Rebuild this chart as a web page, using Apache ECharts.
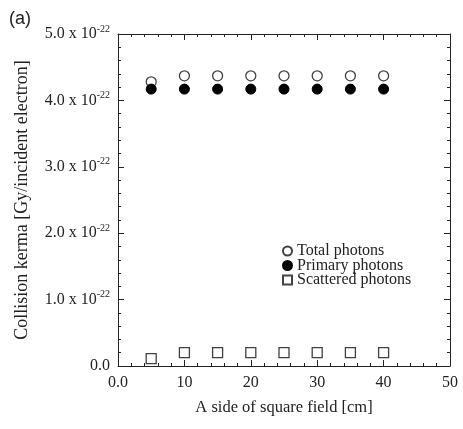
<!DOCTYPE html>
<html><head><meta charset="utf-8">
<script src="https://cdn.jsdelivr.net/npm/echarts@6/dist/echarts.min.js"></script>
<style>html,body{margin:0;padding:0;background:#fff}#c{width:463px;height:429px}</style>
</head><body><div id="c"></div>
<script>
const fieldSides = [5, 10, 15, 20, 25, 30, 35, 40];
const totalPhotons = [4.28, 4.37, 4.37, 4.37, 4.37, 4.37, 4.37, 4.37];
const primaryPhotons = [4.17, 4.17, 4.17, 4.17, 4.17, 4.17, 4.17, 4.17];
const scatteredPhotons = [0.11, 0.20, 0.20, 0.20, 0.20, 0.20, 0.20, 0.20];
const yTickLabels = ['0.0', '1.0', '2.0', '3.0', '4.0', '5.0'];
const xTickLabels = ['0.0', '10', '20', '30', '40', '50'];

const F = 'Liberation Serif';
const pair = (xs, ys) => xs.map((x, i) => [x, ys[i]]);
const chart = echarts.init(document.getElementById('c'));
const tickCommon = () => ({
  axisLine: {show: true, onZero: false, lineStyle: {color: '#222', width: 1}},
  axisTick: {show: true, inside: true, length: 6, lineStyle: {color: '#222'}},
  minorTick: {show: true, splitNumber: 5, length: 3, lineStyle: {color: '#222'}},
  splitLine: {show: false}
});
chart.setOption({
  animation: false,
  backgroundColor: '#fff',
  textStyle: {fontFamily: F},
  title: {text: '(a)', left: 4, top: 5, textStyle: {fontFamily: 'Liberation Sans', fontSize: 18, fontWeight: 'normal', color: '#222'}},
  grid: {left: 118, right: 13, top: 34, bottom: 63},
  legend: {
    orient: 'vertical', left: 277, top: 238, itemWidth: 9, itemHeight: 9, itemGap: -1.5,
    textStyle: {fontFamily: F, fontSize: 16, color: '#222', lineHeight: 14.5},
    data: [
      {name: 'Total photons', icon: 'circle'},
      {name: 'Primary photons', icon: 'circle'},
      {name: 'Scattered photons', icon: 'rect'}
    ]
  },
  xAxis: [
    Object.assign({type: 'value', min: 0, max: 50, interval: 10, position: 'bottom',
      name: 'A side of square field [cm]', nameLocation: 'middle', nameGap: 33,
      nameTextStyle: {fontFamily: F, fontSize: 16.5, color: '#222'},
      axisLabel: {fontFamily: F, fontSize: 16, color: '#222', margin: 9,
        formatter: v => xTickLabels[Math.round(v / 10)]}}, tickCommon()),
    Object.assign({type: 'value', min: 0, max: 50, interval: 10, position: 'top',
      axisLabel: {show: false}}, tickCommon())
  ],
  yAxis: [
    Object.assign({type: 'value', min: 0, max: 5, interval: 1, position: 'left',
      name: 'Collision kerma [Gy/incident electron]', nameLocation: 'middle', nameGap: 87,
      nameTextStyle: {fontFamily: F, fontSize: 18, color: '#222'},
      axisLabel: {color: '#222', margin: 8,
        formatter: v => { const s = yTickLabels[Math.round(v)]; return v === 0 ? '{a|' + s + '}' : '{a|' + s + ' x 10}{s|-22}'; },
        rich: {a: {fontFamily: F, fontSize: 16, color: '#222'}, s: {fontFamily: F, fontSize: 10, color: '#222', verticalAlign: 'top', padding: [0, 0, 10, 0]}}}
    }, tickCommon()),
    Object.assign({type: 'value', min: 0, max: 5, interval: 1, position: 'right',
      axisLabel: {show: false}}, tickCommon())
  ],
  series: [
    {name: 'Total photons', type: 'scatter', symbol: 'circle', symbolSize: 10,
      itemStyle: {color: '#fff', borderColor: '#111', borderWidth: 1.3}, data: pair(fieldSides, totalPhotons)},
    {name: 'Primary photons', type: 'scatter', symbol: 'circle', symbolSize: 10,
      itemStyle: {color: '#000', borderColor: '#000', borderWidth: 1, opacity: 1}, data: pair(fieldSides, primaryPhotons)},
    {name: 'Scattered photons', type: 'scatter', symbol: 'rect', symbolSize: 10,
      itemStyle: {color: '#fff', borderColor: '#111', borderWidth: 1.3}, data: pair(fieldSides, scatteredPhotons)},
    {name: 'frame', type: 'scatter', xAxisIndex: 1, yAxisIndex: 1, data: [], silent: true}
  ]
});
</script></body></html>
